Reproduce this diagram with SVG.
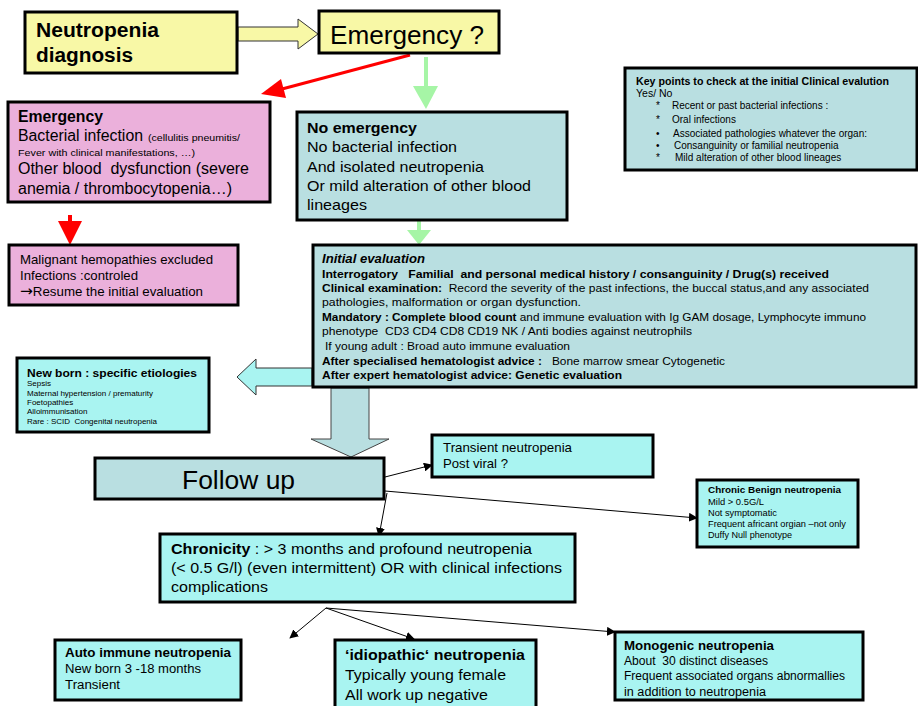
<svg xmlns="http://www.w3.org/2000/svg" width="918" height="706" viewBox="0 0 918 706">
<defs>
<style>
text{font-family:"Liberation Sans",Arial,sans-serif;fill:#000;white-space:pre}
.b{font-weight:bold}
.box{stroke:#000;stroke-width:3}
.yel{fill:#F8F8A6}
.pink{fill:#EBB0DB}
.gray{fill:#B9DFE1}
.cyan{fill:#A9F4F1}
.thin{stroke:#000;stroke-width:1;fill:none;marker-end:url(#ah)}
</style>
<marker id="ah" viewBox="0 0 10 10" refX="9" refY="5" markerWidth="9" markerHeight="9" markerUnits="userSpaceOnUse" orient="auto">
<path d="M0,0 L10,5 L0,10 z" fill="#000"/>
</marker>
</defs>
<rect width="918" height="706" fill="#fff"/>

<g id="connectors">
<polygon points="238,27 298,27 298,19 318,34 298,49 298,41 238,41" fill="#F8F8A6" stroke="#333" stroke-width="1"/>
<line x1="410" y1="55" x2="282" y2="89" stroke="#FF0000" stroke-width="3"/>
<polygon points="261,94 281,79 286,98" fill="#FF0000"/>
<rect x="424" y="57" width="4" height="30" fill="#A6F5A6"/>
<polygon points="413,86 438,86 426,109" fill="#A6F5A6"/>
<rect x="417" y="221" width="4" height="10" fill="#A6F5A6"/>
<polygon points="407,230 431,230 419,245" fill="#A6F5A6"/>
<rect x="68" y="215" width="4" height="7" fill="#FF0000"/>
<polygon points="58,221 82,221 70,245" fill="#FF0000"/>
<polygon points="312,368 256,368 256,359 237,377 256,395 256,386 312,386" fill="#A9F4F1" stroke="#333" stroke-width="1"/>
<polygon points="331,388 369,388 369,439 389,439 351,457 311,439 331,439" fill="#B9DFE1" stroke="#444" stroke-width="1"/>
<line class="thin" x1="385" y1="477" x2="432" y2="465"/>
<line class="thin" x1="385" y1="491" x2="697" y2="518"/>
<line class="thin" x1="387" y1="493" x2="379" y2="536"/>
<line class="thin" x1="326" y1="608" x2="290" y2="638"/>
<line class="thin" x1="326" y1="608" x2="414" y2="639"/>
<line class="thin" x1="326" y1="608" x2="615" y2="632"/>
</g>

<g id="n-diagnosis">
<rect class="box yel" x="25" y="12" width="212" height="61"/>
<text class="b" x="36" y="37" font-size="20" textLength="123" lengthAdjust="spacingAndGlyphs">Neutropenia</text>
<text class="b" x="36" y="62" font-size="20" textLength="97" lengthAdjust="spacingAndGlyphs">diagnosis</text>
</g>

<g id="n-emergency-q">
<rect class="box yel" x="319" y="11" width="180" height="42"/>
<text x="330" y="44" font-size="26" textLength="154" lengthAdjust="spacingAndGlyphs">Emergency ?</text>
</g>

<g id="n-emergency">
<rect class="box pink" x="8" y="102" width="262" height="100"/>
<text class="b" x="18" y="122" font-size="16" textLength="85" lengthAdjust="spacingAndGlyphs">Emergency</text>
<text x="18" y="141" font-size="16" textLength="125" lengthAdjust="spacingAndGlyphs">Bacterial infection</text>
<text x="148" y="141" font-size="9.5" textLength="92" lengthAdjust="spacingAndGlyphs">(cellulitis pneumitis/</text>
<text x="18" y="156" font-size="9.5" textLength="177" lengthAdjust="spacingAndGlyphs">Fever with clinical manifestations, …)</text>
<text x="18" y="174" font-size="16" textLength="231" lengthAdjust="spacingAndGlyphs">Other blood  dysfunction (severe</text>
<text x="18" y="194" font-size="16" textLength="214" lengthAdjust="spacingAndGlyphs">anemia / thrombocytopenia…)</text>
</g>

<g id="n-malignant">
<rect class="box pink" x="9" y="245" width="229" height="60"/>
<text x="20" y="264" font-size="13" textLength="193" lengthAdjust="spacingAndGlyphs">Malignant hemopathies excluded</text>
<text x="20" y="280" font-size="13" textLength="118" lengthAdjust="spacingAndGlyphs">Infections :controled</text>
<text x="20" y="296" font-size="13" textLength="183" lengthAdjust="spacingAndGlyphs"><tspan font-family="'DejaVu Sans',sans-serif" font-size="15">→</tspan>Resume the initial evaluation</text>
</g>

<g id="n-no-emergency">
<rect class="box gray" x="297" y="112" width="270" height="108"/>
<text class="b" x="307" y="133" font-size="15" textLength="110" lengthAdjust="spacingAndGlyphs">No emergency</text>
<text x="307" y="152" font-size="15" textLength="150" lengthAdjust="spacingAndGlyphs">No bacterial infection</text>
<text x="307" y="172" font-size="15" textLength="177" lengthAdjust="spacingAndGlyphs">And isolated neutropenia</text>
<text x="307" y="191" font-size="15" textLength="224" lengthAdjust="spacingAndGlyphs">Or mild alteration of other blood</text>
<text x="307" y="210" font-size="15" textLength="60" lengthAdjust="spacingAndGlyphs">lineages</text>
</g>

<g id="n-keypoints">
<rect class="box gray" x="625" y="68" width="292" height="102"/>
<text class="b" x="636" y="85" font-size="10.5" textLength="253" lengthAdjust="spacingAndGlyphs">Key points to check at the initial Clinical evalution</text>
<text x="636" y="97" font-size="10.5">Yes/ No</text>
<g font-size="10">
<text x="656" y="109">*</text><text x="672" y="109">Recent or past bacterial infections :</text>
<text x="656" y="123">*</text><text x="672" y="123">Oral infections</text>
<text x="656" y="137">•</text><text x="673" y="137">Associated pathologies whatever the organ:</text>
<text x="656" y="149">•</text><text x="674" y="149">Consanguinity or familial neutropenia</text>
<text x="656" y="161">*</text><text x="675" y="161">Mild alteration of other blood lineages</text>
</g>
</g>

<g id="n-initial-eval">
<rect class="box gray" x="313" y="245" width="603" height="142"/>
<g font-size="11.5">
<text x="322" y="263" font-size="13" font-weight="bold" font-style="italic" textLength="103" lengthAdjust="spacingAndGlyphs">Initial evaluation</text>
<text x="322" y="278" class="b" textLength="507" lengthAdjust="spacingAndGlyphs">Interrogatory   Familial  and personal medical history / consanguinity / Drug(s) received</text>
<text x="322" y="292" textLength="547" lengthAdjust="spacingAndGlyphs"><tspan font-weight="bold">Clinical examination:</tspan>  Record the severity of the past infections, the buccal status,and any associated</text>
<text x="322" y="306" textLength="259" lengthAdjust="spacingAndGlyphs">pathologies, malformation or organ dysfunction.</text>
<text x="322" y="321" textLength="544" lengthAdjust="spacingAndGlyphs"><tspan font-weight="bold">Mandatory : Complete blood count</tspan> and immune evaluation with Ig GAM dosage, Lymphocyte immuno</text>
<text x="322" y="335" textLength="370" lengthAdjust="spacingAndGlyphs">phenotype  CD3 CD4 CD8 CD19 NK / Anti bodies against neutrophils</text>
<text x="325" y="350" textLength="245" lengthAdjust="spacingAndGlyphs">If young adult : Broad auto immune evaluation</text>
<text x="322" y="365" textLength="403" lengthAdjust="spacingAndGlyphs"><tspan font-weight="bold">After specialised hematologist advice :</tspan>   Bone marrow smear Cytogenetic</text>
<text x="322" y="379" class="b" textLength="300" lengthAdjust="spacingAndGlyphs">After expert hematologist advice: Genetic evaluation</text>
</g>
</g>

<g id="n-newborn">
<rect class="box cyan" x="17" y="358" width="192" height="74"/>
<text class="b" x="27" y="377" font-size="11" textLength="170" lengthAdjust="spacingAndGlyphs">New born : specific etiologies</text>
<g font-size="8">
<text x="27" y="386">Sepsis</text>
<text x="27" y="396" textLength="126" lengthAdjust="spacingAndGlyphs">Maternal hypertension / prematurity</text>
<text x="27" y="405">Foetopathies</text>
<text x="27" y="414">Alloimmunisation</text>
<text x="27" y="424" textLength="130" lengthAdjust="spacingAndGlyphs">Rare : SCID  Congenital neutropenia</text>
</g>
</g>

<g id="n-followup">
<rect class="box gray" x="95" y="458" width="289" height="41"/>
<text x="182" y="489" font-size="26" textLength="113" lengthAdjust="spacingAndGlyphs">Follow up</text>
</g>

<g id="n-transient">
<rect class="box cyan" x="432" y="435" width="221" height="42"/>
<text x="443" y="452" font-size="13.5" textLength="129" lengthAdjust="spacingAndGlyphs">Transient neutropenia</text>
<text x="443" y="468" font-size="13.5" textLength="65" lengthAdjust="spacingAndGlyphs">Post viral ?</text>
</g>

<g id="n-benign">
<rect class="box cyan" x="697" y="480" width="161" height="67"/>
<g font-size="9">
<text class="b" x="708" y="493" textLength="133" lengthAdjust="spacingAndGlyphs">Chronic Benign neutropenia</text>
<text x="708" y="505" textLength="56" lengthAdjust="spacingAndGlyphs">Mild &gt; 0.5G/L</text>
<text x="708" y="516" textLength="69" lengthAdjust="spacingAndGlyphs">Not symptomatic</text>
<text x="708" y="527" textLength="138" lengthAdjust="spacingAndGlyphs">Frequent africant orgian –not only</text>
<text x="708" y="538" textLength="84" lengthAdjust="spacingAndGlyphs">Duffy Null phenotype</text>
</g>
</g>

<g id="n-chronicity">
<rect class="box cyan" x="160" y="534" width="415" height="68"/>
<text x="171" y="554" font-size="15.5" textLength="361" lengthAdjust="spacingAndGlyphs"><tspan font-weight="bold">Chronicity</tspan> : &gt; 3 months and profound neutropenia</text>
<text x="171" y="573" font-size="15.5" textLength="391" lengthAdjust="spacingAndGlyphs">(&lt; 0.5 G/l) (even intermittent) OR with clinical infections</text>
<text x="171" y="592" font-size="15.5" textLength="97" lengthAdjust="spacingAndGlyphs">complications</text>
</g>

<g id="n-autoimmune">
<rect class="box cyan" x="55" y="640" width="186" height="60"/>
<text class="b" x="65" y="657" font-size="12.5" textLength="166" lengthAdjust="spacingAndGlyphs">Auto immune neutropenia</text>
<text x="65" y="673" font-size="12.5" textLength="136" lengthAdjust="spacingAndGlyphs">New born 3 -18 months</text>
<text x="65" y="689" font-size="12.5" textLength="55" lengthAdjust="spacingAndGlyphs">Transient</text>
</g>

<g id="n-idiopathic">
<rect class="box cyan" x="335" y="640" width="201" height="68"/>
<text class="b" x="345" y="660" font-size="15.5" textLength="180" lengthAdjust="spacingAndGlyphs">‘idiopathic‘ neutropenia</text>
<text x="345" y="680" font-size="15.5" textLength="161" lengthAdjust="spacingAndGlyphs">Typically young female</text>
<text x="345" y="700" font-size="15.5" textLength="143" lengthAdjust="spacingAndGlyphs">All work up negative</text>
</g>

<g id="n-monogenic">
<rect class="box cyan" x="615" y="632" width="248" height="68"/>
<text class="b" x="624" y="650" font-size="12.5" textLength="150" lengthAdjust="spacingAndGlyphs">Monogenic neutropenia</text>
<text x="624" y="665" font-size="12" textLength="144" lengthAdjust="spacingAndGlyphs">About  30 distinct diseases</text>
<text x="624" y="680" font-size="12" textLength="221" lengthAdjust="spacingAndGlyphs">Frequent associated organs abnormallies</text>
<text x="624" y="696" font-size="12" textLength="142" lengthAdjust="spacingAndGlyphs">in addition to neutropenia</text>
</g>
</svg>
